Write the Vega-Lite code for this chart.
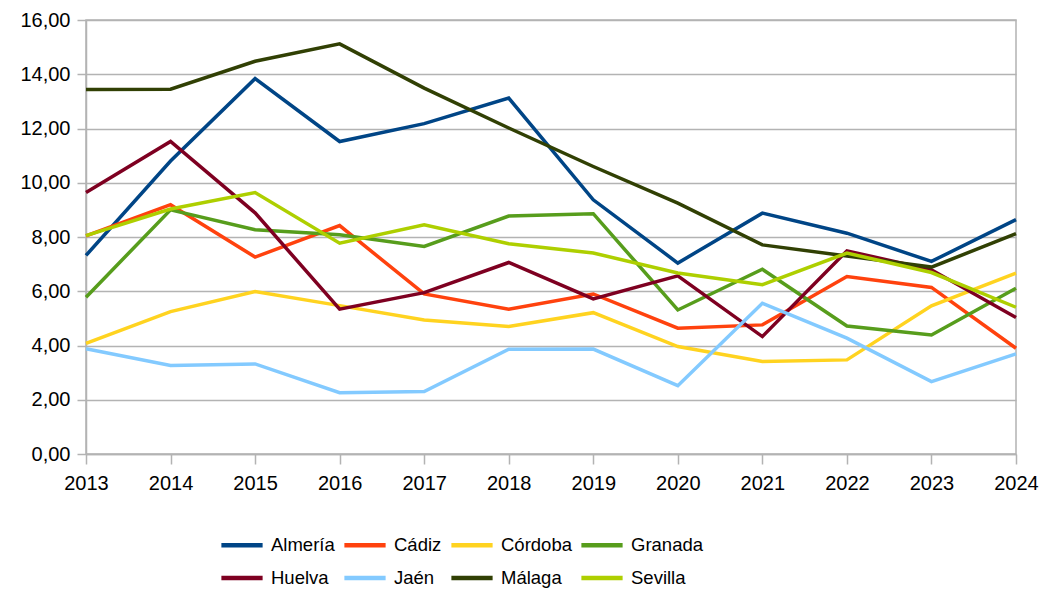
{
  "$schema": "https://vega.github.io/schema/vega-lite/v6.json",
  "width": 930,
  "height": 434,
  "autosize": {"type": "none"},
  "padding": {"left": 86, "top": 20, "right": 30, "bottom": 137},
  "background": "white",
  "config": {
    "font": "Liberation Sans",
    "view": {"stroke": "#b3b3b3", "strokeWidth": 1.5},
    "axis": {"labelFont": "Liberation Sans", "labelColor": "#000000", "domainColor": "#b3b3b3", "tickColor": "#b3b3b3", "gridColor": "#b3b3b3", "domainWidth": 1.5, "tickWidth": 1.5, "gridWidth": 1.5}
  },
  "data": {"values": [
    {"year": "2013", "prov": "Almería", "v": 7.32}, {"year": "2014", "prov": "Almería", "v": 10.8}, {"year": "2015", "prov": "Almería", "v": 13.84}, {"year": "2016", "prov": "Almería", "v": 11.52}, {"year": "2017", "prov": "Almería", "v": 12.18}, {"year": "2018", "prov": "Almería", "v": 13.12}, {"year": "2019", "prov": "Almería", "v": 9.37}, {"year": "2020", "prov": "Almería", "v": 7.04}, {"year": "2021", "prov": "Almería", "v": 8.88}, {"year": "2022", "prov": "Almería", "v": 8.14}, {"year": "2023", "prov": "Almería", "v": 7.1}, {"year": "2024", "prov": "Almería", "v": 8.64},
    {"year": "2013", "prov": "Cádiz", "v": 8.04}, {"year": "2014", "prov": "Cádiz", "v": 9.19}, {"year": "2015", "prov": "Cádiz", "v": 7.26}, {"year": "2016", "prov": "Cádiz", "v": 8.42}, {"year": "2017", "prov": "Cádiz", "v": 5.9}, {"year": "2018", "prov": "Cádiz", "v": 5.34}, {"year": "2019", "prov": "Cádiz", "v": 5.9}, {"year": "2020", "prov": "Cádiz", "v": 4.64}, {"year": "2021", "prov": "Cádiz", "v": 4.76}, {"year": "2022", "prov": "Cádiz", "v": 6.54}, {"year": "2023", "prov": "Cádiz", "v": 6.14}, {"year": "2024", "prov": "Cádiz", "v": 3.9},
    {"year": "2013", "prov": "Córdoba", "v": 4.08}, {"year": "2014", "prov": "Córdoba", "v": 5.25}, {"year": "2015", "prov": "Córdoba", "v": 5.99}, {"year": "2016", "prov": "Córdoba", "v": 5.47}, {"year": "2017", "prov": "Córdoba", "v": 4.94}, {"year": "2018", "prov": "Córdoba", "v": 4.7}, {"year": "2019", "prov": "Córdoba", "v": 5.21}, {"year": "2020", "prov": "Córdoba", "v": 3.96}, {"year": "2021", "prov": "Córdoba", "v": 3.41}, {"year": "2022", "prov": "Córdoba", "v": 3.47}, {"year": "2023", "prov": "Córdoba", "v": 5.46}, {"year": "2024", "prov": "Córdoba", "v": 6.67},
    {"year": "2013", "prov": "Granada", "v": 5.78}, {"year": "2014", "prov": "Granada", "v": 9.0}, {"year": "2015", "prov": "Granada", "v": 8.27}, {"year": "2016", "prov": "Granada", "v": 8.08}, {"year": "2017", "prov": "Granada", "v": 7.65}, {"year": "2018", "prov": "Granada", "v": 8.77}, {"year": "2019", "prov": "Granada", "v": 8.86}, {"year": "2020", "prov": "Granada", "v": 5.31}, {"year": "2021", "prov": "Granada", "v": 6.81}, {"year": "2022", "prov": "Granada", "v": 4.72}, {"year": "2023", "prov": "Granada", "v": 4.39}, {"year": "2024", "prov": "Granada", "v": 6.11},
    {"year": "2013", "prov": "Huelva", "v": 9.64}, {"year": "2014", "prov": "Huelva", "v": 11.52}, {"year": "2015", "prov": "Huelva", "v": 8.89}, {"year": "2016", "prov": "Huelva", "v": 5.34}, {"year": "2017", "prov": "Huelva", "v": 5.95}, {"year": "2018", "prov": "Huelva", "v": 7.06}, {"year": "2019", "prov": "Huelva", "v": 5.72}, {"year": "2020", "prov": "Huelva", "v": 6.57}, {"year": "2021", "prov": "Huelva", "v": 4.33}, {"year": "2022", "prov": "Huelva", "v": 7.49}, {"year": "2023", "prov": "Huelva", "v": 6.79}, {"year": "2024", "prov": "Huelva", "v": 5.03},
    {"year": "2013", "prov": "Jaén", "v": 3.88}, {"year": "2014", "prov": "Jaén", "v": 3.26}, {"year": "2015", "prov": "Jaén", "v": 3.32}, {"year": "2016", "prov": "Jaén", "v": 2.26}, {"year": "2017", "prov": "Jaén", "v": 2.3}, {"year": "2018", "prov": "Jaén", "v": 3.86}, {"year": "2019", "prov": "Jaén", "v": 3.87}, {"year": "2020", "prov": "Jaén", "v": 2.52}, {"year": "2021", "prov": "Jaén", "v": 5.56}, {"year": "2022", "prov": "Jaén", "v": 4.27}, {"year": "2023", "prov": "Jaén", "v": 2.67}, {"year": "2024", "prov": "Jaén", "v": 3.69},
    {"year": "2013", "prov": "Málaga", "v": 13.44}, {"year": "2014", "prov": "Málaga", "v": 13.45}, {"year": "2015", "prov": "Málaga", "v": 14.48}, {"year": "2016", "prov": "Málaga", "v": 15.12}, {"year": "2017", "prov": "Málaga", "v": 13.49}, {"year": "2018", "prov": "Málaga", "v": 12.02}, {"year": "2019", "prov": "Málaga", "v": 10.6}, {"year": "2020", "prov": "Málaga", "v": 9.25}, {"year": "2021", "prov": "Málaga", "v": 7.71}, {"year": "2022", "prov": "Málaga", "v": 7.3}, {"year": "2023", "prov": "Málaga", "v": 6.89}, {"year": "2024", "prov": "Málaga", "v": 8.12},
    {"year": "2013", "prov": "Sevilla", "v": 8.05}, {"year": "2014", "prov": "Sevilla", "v": 9.03}, {"year": "2015", "prov": "Sevilla", "v": 9.64}, {"year": "2016", "prov": "Sevilla", "v": 7.77}, {"year": "2017", "prov": "Sevilla", "v": 8.45}, {"year": "2018", "prov": "Sevilla", "v": 7.75}, {"year": "2019", "prov": "Sevilla", "v": 7.41}, {"year": "2020", "prov": "Sevilla", "v": 6.67}, {"year": "2021", "prov": "Sevilla", "v": 6.24}, {"year": "2022", "prov": "Sevilla", "v": 7.41}, {"year": "2023", "prov": "Sevilla", "v": 6.69}, {"year": "2024", "prov": "Sevilla", "v": 5.41}
  ]},
  "mark": {"type": "line", "strokeWidth": 3.5, "strokeJoin": "miter"},
  "encoding": {
    "x": {"field": "year", "type": "ordinal", "scale": {"type": "point", "padding": 0},
      "axis": {"title": null, "labelAngle": 0, "labelFontSize": 20, "tickSize": 10, "labelPadding": 9, "grid": false}},
    "y": {"field": "v", "type": "quantitative", "scale": {"domain": [0, 16], "nice": false},
      "axis": {"title": null, "values": [0, 2, 4, 6, 8, 10, 12, 14, 16], "labelExpr": "replace(format(datum.value, '.2f'), '.', ',')", "labelFontSize": 20, "tickSize": 9, "labelPadding": 7, "grid": true}},
    "color": {"field": "prov", "type": "nominal",
      "scale": {"domain": ["Almería", "Cádiz", "Córdoba", "Granada", "Huelva", "Jaén", "Málaga", "Sevilla"],
        "range": ["#004586", "#ff420e", "#ffd320", "#579d1c", "#7e0021", "#83caff", "#314004", "#aecf00"]},
      "legend": {"title": null, "orient": "none", "legendX": 133, "legendY": 502, "direction": "horizontal", "columns": 4, "symbolType": "stroke", "symbolSize": 1700, "symbolStrokeWidth": 4.5, "labelFontSize": 18.5, "labelColor": "#000000", "labelOffset": 6, "columnPadding": 0, "rowPadding": -8}}
  }
}
